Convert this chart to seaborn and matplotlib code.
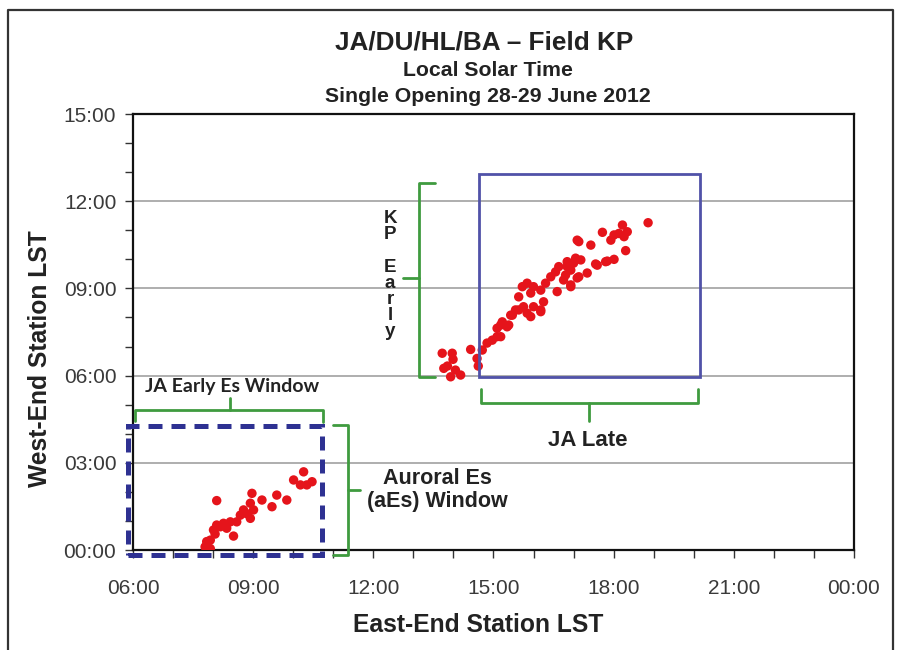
import matplotlib
matplotlib.use("Agg")
import matplotlib.pyplot as plt
import seaborn as sns
import pandas as pd
from matplotlib.ticker import MultipleLocator, FixedLocator
from matplotlib.patches import Rectangle
from matplotlib.lines import Line2D

# ---------------- data (decimal hours) ----------------
east_lst = [
    13.72, 13.97, 14.43, 13.99, 13.76, 14.05, 14.18, 13.93, 14.59, 14.72,
    14.84, 14.97, 15.09, 15.18, 15.38, 15.47, 15.63, 15.84, 16.00, 16.18,
    17.13, 17.43, 17.05, 17.18, 16.84, 17.59, 17.80, 16.63, 16.55, 16.93,
    17.34, 17.13, 16.43, 16.75, 16.93, 16.30, 15.84, 15.72, 16.00, 16.18,
    16.59, 15.93, 15.63, 16.25, 15.75, 15.55, 16.18, 15.93, 15.43, 15.22,
    15.34, 15.09, 15.18,
    18.86, 18.22, 18.34, 18.13, 18.01, 17.72, 17.93, 18.26, 17.09, 18.30,
    18.01, 17.84, 17.55, 17.00, 16.84, 16.80, 17.09, 16.93, 13.85, 14.62,
    10.26, 10.01, 10.18, 10.34, 10.47, 8.09, 8.97, 9.22, 9.59, 9.84,
    9.47, 8.93, 9.01, 8.76, 8.68, 8.59, 8.43, 8.26, 8.09, 8.01,
    8.34, 8.51, 8.93, 7.93, 7.84, 7.80, 7.93, 8.18, 8.84, 8.05,
]
west_lst = [
    6.77, 6.77, 6.90, 6.56, 6.25, 6.19, 6.02, 5.96, 6.59, 6.88,
    7.12, 7.22, 7.34, 7.74, 7.74, 8.08, 8.26, 8.15, 8.37, 8.26,
    10.61, 10.49, 10.04, 9.98, 9.92, 9.80, 9.92, 9.75, 9.57, 9.63,
    9.53, 9.40, 9.40, 9.29, 9.12, 9.18, 9.18, 9.06, 9.06, 8.94,
    8.89, 8.84, 8.71, 8.54, 8.37, 8.26, 8.20, 8.03, 8.08, 7.85,
    7.68, 7.63, 7.34,
    11.26, 11.18, 10.95, 10.89, 10.84, 10.93, 10.66, 10.78, 10.66, 10.30,
    10.00, 9.94, 9.84, 9.87, 9.75, 9.46, 9.36, 9.06, 6.33, 6.33,
    2.69, 2.41, 2.24, 2.24, 2.35, 1.70, 1.95, 1.72, 1.89, 1.72,
    1.49, 1.61, 1.38, 1.38, 1.20, 0.97, 0.97, 0.92, 0.86, 0.69,
    0.75, 0.48, 1.09, 0.34, 0.29, 0.11, 0.05, 0.80, 1.25, 0.55,
]

x_ticks = [6, 9, 12, 15, 18, 21, 24]
x_tick_labels = ["06:00", "09:00", "12:00", "15:00", "18:00", "21:00", "00:00"]
y_ticks = [0, 3, 6, 9, 12, 15]
y_tick_labels = ["00:00", "03:00", "06:00", "09:00", "12:00", "15:00"]

title = "JA/DU/HL/BA \u2013 Field KP"
subtitle1 = "Local Solar Time"
subtitle2 = "Single Opening 28-29 June 2012"
x_label = "East-End Station LST"
y_label = "West-End Station LST"

# ---------------- style ----------------
sns.set_style("white")
plt.rcParams['font.family'] = ['Liberation Sans', 'DejaVu Sans']

fig = plt.figure(figsize=(9.01, 6.5), dpi=100)
ax = fig.add_axes([0.1476, 0.1538, 0.8002, 0.6708])

df = pd.DataFrame({"East": east_lst, "West": west_lst})
sns.scatterplot(data=df, x="East", y="West", ax=ax, color="#E5141B",
                s=46, edgecolor="none", linewidth=0, zorder=5)

ax.set_xlim(6, 24)
ax.set_ylim(0, 15)
ax.xaxis.set_major_locator(FixedLocator(x_ticks))
ax.set_xticklabels(x_tick_labels)
ax.yaxis.set_major_locator(FixedLocator(y_ticks))
ax.set_yticklabels(y_tick_labels)
ax.xaxis.set_minor_locator(MultipleLocator(1))
ax.yaxis.set_minor_locator(MultipleLocator(1))
ax.tick_params(which='both', direction='out', length=6, width=1.0,
               color='#333333', bottom=True, left=True, top=False, right=False)
ax.tick_params(axis='x', which='major', labelsize=15, labelcolor='#3a3a3a', pad=15)
ax.tick_params(axis='y', which='major', labelsize=15, labelcolor='#3a3a3a', pad=6)

ax.yaxis.grid(True, color='#a8a8a8', lw=1.3, zorder=0)
ax.xaxis.grid(False)
for sp in ax.spines.values():
    sp.set_visible(True)
    sp.set_color('#111111')
    sp.set_linewidth(1.6)

ax.set_xlabel("")
ax.set_ylabel("")
ax.text(0.4785, -0.172, x_label, transform=ax.transAxes,
        ha='center', va='center', fontsize=17.7, fontweight='bold', color='#222222')
ax.text(-0.129, 0.44, y_label, transform=ax.transAxes, rotation=90,
        ha='center', va='center', fontsize=17.7, fontweight='bold', color='#222222')

fig.text(0.537, 0.935, title, ha='center', va='center', fontsize=18.8,
         fontweight='bold', color='#222222')
fig.text(0.542, 0.892, subtitle1, ha='center', va='center', fontsize=15.3,
         fontweight='bold', color='#222222')
fig.text(0.542, 0.851, subtitle2, ha='center', va='center', fontsize=15.3,
         fontweight='bold', color='#222222')

# figure frame
fig.add_artist(Line2D([0.009, 0.009, 0.991, 0.991], [0.0, 0.985, 0.985, 0.0],
                      transform=fig.transFigure, color='#333333', lw=1.6))

# ---------------- annotations ----------------
green = '#3f9b3f'
blue_solid = '#5052a8'
blue_dash = '#2e3192'

ax.add_patch(Rectangle((14.63, 5.95), 20.15 - 14.63, 12.93 - 5.95, fill=False,
                       edgecolor=blue_solid, lw=2.0, zorder=6, clip_on=False))
ax.add_patch(Rectangle((5.88, -0.17), 10.73 - 5.88, 4.27 + 0.17, fill=False,
                       edgecolor=blue_dash, lw=3.6, linestyle=(0, (2.8, 1.8)),
                       zorder=7, clip_on=False))

def bracket(xs, ys):
    ax.add_line(Line2D(xs, ys, color=green, lw=2.0, zorder=6, clip_on=False,
                       solid_joinstyle='round', solid_capstyle='round'))

# KP Early (vertical, left of solid box)
bracket([13.54, 13.14, 13.14, 13.54], [12.64, 12.64, 5.95, 5.95])
bracket([13.14, 12.74], [9.36, 9.36])
ax.text(12.42, 9.46, "K\nP\n\nE\na\nr\nl\ny", ha='center', va='center',
        fontsize=13.5, fontweight='bold', color='#222222', linespacing=0.93)

# JA Late (horizontal, below solid box)
bracket([14.68, 14.68, 20.10, 20.10], [5.55, 5.05, 5.05, 5.55])
bracket([17.39, 17.39], [5.05, 4.45])
ax.text(17.36, 3.78, "JA Late", ha='center', va='center', fontsize=16,
        fontweight='bold', color='#222222')

# JA Early Es Window (horizontal, above dashed box)
bracket([6.05, 6.05, 10.74, 10.74], [4.45, 4.82, 4.82, 4.40])
bracket([8.42, 8.42], [4.82, 5.23])
ax.text(8.47, 5.64, "JA Early Es Window", ha='center', va='center',
        fontsize=14, fontweight='bold', color='#222222',
        family=['Lato', 'DejaVu Sans'])

# Auroral Es window (vertical, right of dashed box)
bracket([10.99, 11.38, 11.38, 10.99], [4.30, 4.30, -0.17, -0.17])
bracket([11.38, 11.67], [2.06, 2.06])
ax.text(13.59, 2.07, "Auroral Es\n(aEs) Window", ha='center', va='center',
        fontsize=15.5, fontweight='bold', color='#222222', linespacing=1.15)

fig.savefig("out.png", dpi=100)
